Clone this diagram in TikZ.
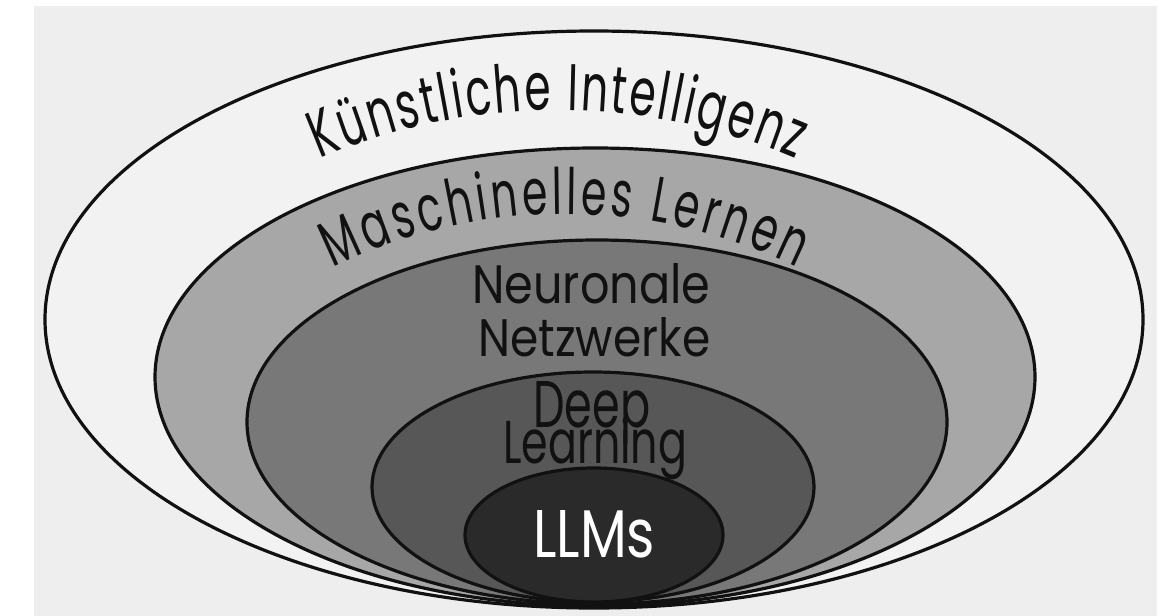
\documentclass[tikz,border=0pt]{standalone}
\usepackage{fontspec}
\usepackage{graphicx}
\usetikzlibrary{decorations.text}
\newfontfamily\handfont[FakeStretch=0.85]{Poppins}
\newfontfamily\arcfont[FakeStretch=0.64]{Poppins}
\definecolor{bggray}{HTML}{EEEEEE}
\definecolor{kifill}{HTML}{F2F2F2}
\definecolor{mlfill}{HTML}{A7A7A7}
\definecolor{nnfill}{HTML}{787878}
\definecolor{dlfill}{HTML}{575757}
\definecolor{llmfill}{HTML}{2A2A2A}
\definecolor{inkcol}{HTML}{111111}
\tikzset{
  ring/.style={draw=inkcol, line width=3.2pt},
  label/.style={inner sep=0pt, text=inkcol, font=\handfont},
}
\begin{document}
\begin{tikzpicture}[x=1pt, y=-1pt]
\useasboundingbox (0,0) rectangle (1176,616);
\fill[white] (0,0) rectangle (1176,616);
\fill[bggray] (34,6) rectangle (1157,616);
% rings
\path[ring, fill=kifill] (594,319.5) ellipse [x radius=549, y radius=288.5];
\path[ring, fill=mlfill] (595,377) ellipse [x radius=440, y radius=229];
\path[ring, fill=nnfill] (597,422) ellipse [x radius=350, y radius=182];
\path[ring, fill=dlfill] (593,487) ellipse [x radius=221, y radius=115];
\path[ring, fill=llmfill] (594,535) ellipse [x radius=129, y radius=67];
% curved labels
\path[decorate, decoration={text along path, text align=fit to path,
   text={|\fontsize{66}{66}\arcfont\color{inkcol}|Künstliche Intelligenz}}]
  (558,715) ++(-113.2:605) arc[start angle=-113.2, end angle=-66.8, radius=605];
\path[decorate, decoration={text along path, text align=fit to path,
   text={|\fontsize{64}{64}\arcfont\color{inkcol}|Maschinelles Lernen}}]
  (565,741.5) ++(-116.1:527.5) arc[start angle=-116.1, end angle=-63.9, radius=527.5];
% straight labels
\node[label, anchor=base west] (nn1) at (472,303) {\resizebox{238pt}{40pt}{Neuronale}};
\node[label, anchor=base west] (nn2) at (478,356) {\resizebox{232pt}{39pt}{Netzwerke}};
\node[label, anchor=base west] (dl1) at (533,427) {\resizebox{117pt}{46pt}{Deep}};
\node[label, anchor=base west] (dl2) at (503,463) {\resizebox{184pt}{46pt}{Learning}};
\node[label, anchor=base west, text=white] (llm) at (533,557) {\resizebox{122pt}{47pt}{LLMs}};
\end{tikzpicture}
\end{document}
